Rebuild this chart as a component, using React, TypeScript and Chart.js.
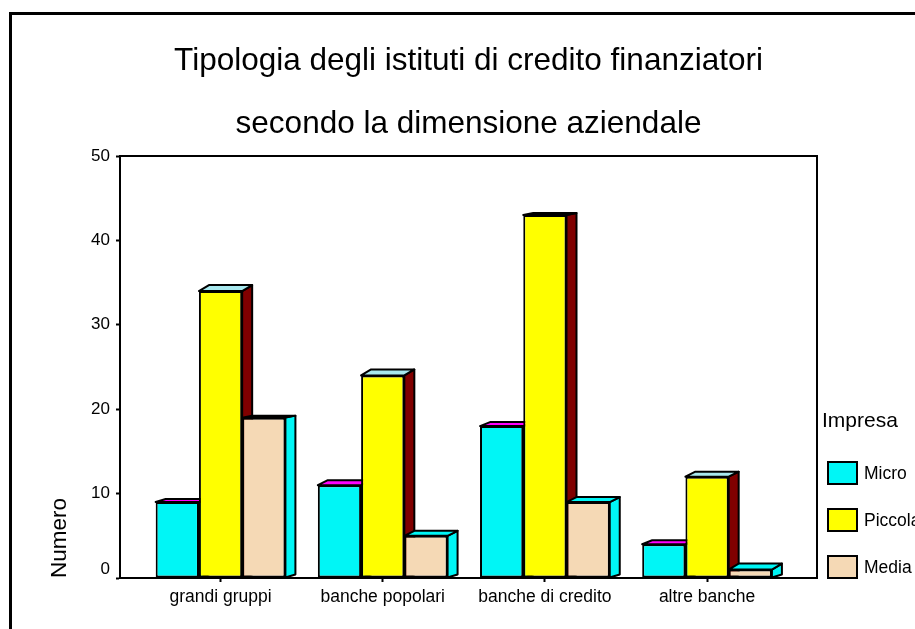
import React, { useEffect, useRef } from "react";
import { Chart, registerables } from "chart.js";

Chart.register(...registerables);

const categories = ["grandi gruppi", "banche popolari", "banche di credito", "altre banche"];
const micro = [9, 11, 18, 4];
const piccola = [34, 24, 43, 12];
const media = [19, 5, 9, 1];

// Oblique depth of each bar's top face, one row per series.
const topDepth = [
  [3, 5, 4, 4],
  [6, 6, 2, 5],
  [2, 5, 5, 6],
];

const FONT = "'Liberation Sans', Arial, sans-serif";
const SIDE_DEPTH = 10;

const front = ["#00f6f6", "#ffff00", "#f5d9b5"];
const topFace = ["#ff00ff", "#a8e8ee", "#00f6f6"];
const sideFace = ["#00f6f6", "#800000", "#00f6f6"];

function face(ctx: CanvasRenderingContext2D, pts: number[][], fill: string) {
  ctx.beginPath();
  pts.forEach(([x, y], i) => (i ? ctx.lineTo(x, y) : ctx.moveTo(x, y)));
  ctx.closePath();
  ctx.fillStyle = fill;
  ctx.fill();
  ctx.lineWidth = 2;
  ctx.lineJoin = "round";
  ctx.strokeStyle = "#000";
  ctx.stroke();
}

// Frame of the page, plot box and the top and side faces behind the bars.
const extrusion = {
  id: "extrusion",
  beforeDatasetsDraw(chart: any) {
    const { ctx, chartArea: a } = chart;
    ctx.save();
    ctx.fillStyle = "#000";
    ctx.fillRect(9, 12, 906, 3);
    ctx.fillRect(9, 12, 3, 617);
    ctx.lineWidth = 2;
    ctx.strokeStyle = "#000";
    ctx.beginPath();
    ctx.moveTo(a.left, a.top);
    ctx.lineTo(a.right, a.top);
    ctx.lineTo(a.right, a.bottom);
    ctx.stroke();
    chart.data.datasets.forEach((_: any, d: number) => {
      chart.getDatasetMeta(d).data.forEach((bar: any, i: number) => {
        const { x, y, base, width } = bar.getProps(["x", "y", "base", "width"], true);
        const l = x - width / 2;
        const r = x + width / 2;
        const dy = topDepth[d][i];
        face(ctx, [[r, y], [r + SIDE_DEPTH, y - dy], [r + SIDE_DEPTH, base - 3], [r, base]], sideFace[d]);
        face(ctx, [[l, y], [l + SIDE_DEPTH, y - dy], [r + SIDE_DEPTH, y - dy], [r, y]], topFace[d]);
      });
    });
    ctx.restore();
  },
};

// Legend block to the right of the plot, built from the series.
const sideLegend = {
  id: "sideLegend",
  afterDraw(chart: any) {
    const { ctx } = chart;
    ctx.save();
    ctx.fillStyle = "#000";
    ctx.textBaseline = "middle";
    ctx.font = `21px ${FONT}`;
    ctx.fillText("Impresa", 822, 421);
    ctx.font = `17.5px ${FONT}`;
    const rows = [473, 520, 567];
    chart.data.datasets.forEach((ds: any, d: number) => {
      ctx.fillStyle = front[d];
      ctx.strokeStyle = "#000";
      ctx.lineWidth = 2;
      ctx.fillRect(828, rows[d] - 11, 29, 22);
      ctx.strokeRect(828, rows[d] - 11, 29, 22);
      ctx.fillStyle = "#000";
      ctx.fillText(ds.label, 864, rows[d] + 1);
    });
    ctx.restore();
  },
};

export default function App() {
  const ref = useRef<HTMLCanvasElement>(null);
  useEffect(() => {
    const series = [micro, piccola, media];
    const names = ["Micro", "Piccola", "Media"];
    const chart = new Chart(ref.current!, {
      type: "bar",
      data: {
        datasets: series.map((values, d) => ({
          label: names[d],
          data: values.map((y, x) => ({ x, y })),
          backgroundColor: front[d],
          borderColor: "#000",
          borderWidth: 2,
          borderSkipped: false,
          categoryPercentage: 0.8,
          barPercentage: 1,
        })),
      },
      options: {
        responsive: false,
        animation: false,
        layout: { padding: { top: 0, left: 0, right: 98, bottom: 21 } },
        plugins: {
          legend: { display: false },
          tooltip: { enabled: false },
          title: {
            display: true,
            fullSize: false,
            text: ["Tipologia degli istituti di credito finanziatori", "secondo la dimensione aziendale"],
            color: "#000",
            font: { family: FONT, size: 31.5, weight: "normal", lineHeight: 2 },
            padding: { top: 30, bottom: 0 },
          },
        },
        scales: {
          x: {
            type: "linear",
            min: -0.62,
            max: 3.678,
            offset: false,
            afterBuildTicks: (axis: any) => {
              axis.ticks = categories.map((_, value) => ({ value }));
            },
            afterFit: (axis: any) => {
              axis.height = 30;
            },
            grid: { drawOnChartArea: false, offset: false, tickLength: 4, tickWidth: 2, tickColor: "#000" },
            border: { display: true, color: "#000", width: 2 },
            ticks: {
              autoSkip: false,
              maxRotation: 0,
              color: "#000",
              padding: 5,
              font: { family: FONT, size: 17.5 },
              callback: (v: any) => categories[v],
            },
          },
          y: {
            min: 0,
            max: 50,
            afterFit: (axis: any) => {
              axis.width = 120;
            },
            grid: { drawOnChartArea: false, tickLength: 4, tickWidth: 2, tickColor: "#000" },
            border: { display: true, color: "#000", width: 2 },
            ticks: {
              stepSize: 10,
              color: "#000",
              padding: 6,
              font: { family: FONT, size: 17, lineHeight: 1 },
              // The lowest label sits above its tick, clear of the category labels.
              callback: (v: any) => (v === 0 ? ["0", ""] : String(v)),
            },
            title: {
              display: true,
              text: "Numero",
              align: "start",
              color: "#000",
              font: { family: FONT, size: 22.5 },
              padding: { top: 46, bottom: 0 },
            },
          },
        },
      },
      plugins: [extrusion, sideLegend],
    } as any);
    return () => chart.destroy();
  }, []);
  return (
    <canvas
      ref={ref}
      width={915}
      height={629}
      style={{ position: "fixed", left: 0, top: 0, width: 915, height: 629, display: "block", background: "#fff" }}
    />
  );
}
